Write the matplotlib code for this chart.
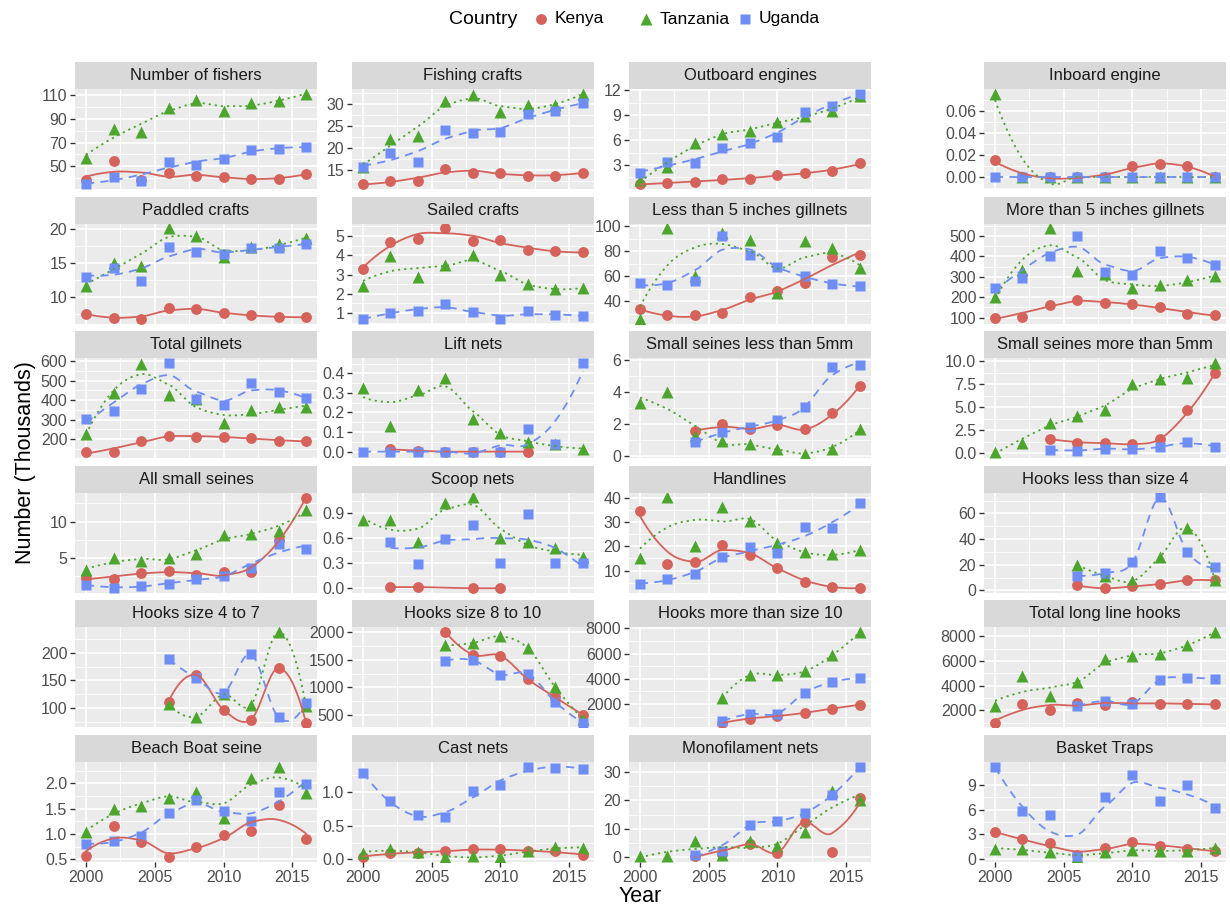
import numpy as np
import matplotlib
matplotlib.use("Agg")
import matplotlib.pyplot as plt

plt.rcParams["font.family"] = ["Liberation Sans", "DejaVu Sans"]

years = np.arange(2000, 2017, 2)
N = np.nan

panels = [
    "Number of fishers", "Fishing crafts", "Outboard engines", "Inboard engine",
    "Paddled crafts", "Sailed crafts", "Less than 5 inches gillnets", "More than 5 inches gillnets",
    "Total gillnets", "Lift nets", "Small seines less than 5mm", "Small seines more than 5mm",
    "All small seines", "Scoop nets", "Handlines", "Hooks less than size 4",
    "Hooks size 4 to 7", "Hooks size 8 to 10", "Hooks more than size 10", "Total long line hooks",
    "Beach Boat seine", "Cast nets", "Monofilament nets", "Basket Traps",
]

# one row per panel, one value per survey year (thousands)
kenya = [
    [38.4, 54.2, 38.5, 44.3, 42.0, 41.3, 39.3, 39.3, 43.7],
    [11.6, 12.3, 12.4, 15.2, 14.3, 14.2, 13.6, 13.6, 14.3],
    [0.66, 0.84, 0.97, 1.3, 1.3, 1.8, 2.05, 2.26, 3.2],
    [0.015, 0, 0, 0, 0, 0.010, 0.0115, 0.010, 0],
    [7.54, 6.9, 6.75, 8.4, 8.2, 7.6, 7.3, 7.1, 7.0],
    [3.3, 4.7, 4.85, 5.4, 4.76, 4.8, 4.27, 4.2, 4.15],
    [33.4, 28.6, 28.6, 30.9, 43.7, 48.0, 54.3, 75.4, 77.1],
    [100, 103, 161, 186, 170, 165, 151, 118, 112],
    [133, 135, 191, 217, 213, 211, 207, 189, 191],
    [N, 0.012, 0.005, 0, 0, 0, 0, N, N],
    [N, N, 1.55, 2.0, 1.7, 1.96, 1.67, 2.7, 4.4],
    [N, N, 1.55, 1.17, 1.1, 1.0, 1.55, 4.67, 8.68],
    [2.2, 2.1, 3.0, 3.2, 2.7, 3.1, 3.1, 7.5, 13.3],
    [N, 0.013, 0.013, N, 0.0, 0.0, N, N, N],
    [34.6, 12.5, 13.5, 20.7, 16.3, 11.2, 5.4, 3.2, 2.8],
    [N, N, N, 3.9, 1.7, 3.1, 5.0, 7.8, 7.8],
    [N, N, N, 112, 160, 97.5, 80, 172, 74],
    [N, N, N, 2000, 1592, 1572, 1147, 820, 507],
    [N, N, N, 500, 845, 1040, 1300, 1635, 1940],
    [1000, 2540, 2060, 2630, 2430, 2710, 2490, 2540, 2490],
    [0.57, 1.15, 0.85, 0.535, 0.745, 0.97, 1.06, 1.58, 0.9],
    [0.04, 0.1, 0.1, 0.12, 0.15, 0.15, 0.12, 0.12, 0.07],
    [N, N, 0.2, 1.0, 4.5, 1.5, 12.4, 1.8, 21.0],
    [3.25, 2.4, 1.9, 0.5, 1.3, 2.05, 1.55, 1.2, 1.0],
]

tanzania = [
    [57.2, 81.6, 79.0, 99.0, 105.8, 96.3, 103.4, 105.2, 111.0],
    [15.7, 21.9, 22.8, 30.8, 32.0, 28.1, 29.8, 29.7, 32.4],
    [1.2, 2.7, 5.7, 6.7, 7.1, 8.2, 8.9, 9.5, 11.3],
    [0.0757, 0, 0, 0, 0, 0, 0, 0, 0],
    [11.6, 15.0, 14.6, 20.1, 19.0, 15.9, 17.4, 17.8, 18.6],
    [2.4, 3.96, 2.85, 3.47, 4.02, 3.0, 2.5, 2.27, 2.3],
    [25.7, 98.6, 60.0, 94.9, 89.4, 46.3, 88.6, 82.3, 66.3],
    [202, 335, 538, 328, 312, 247, 260, 282, 303],
    [226, 435, 587, 426, 405, 283, 350, 365, 365],
    [0.324, 0.13, 0.315, 0.376, 0.167, 0.093, 0.05, 0.037, 0.013],
    [3.3, 4.0, 1.28, 0.95, 0.77, 0.45, 0.16, 0.45, 1.7],
    [0.1, 1.17, 3.3, 4.1, 4.67, 7.5, 8.1, 8.2, 9.85],
    [3.3, 5.0, 4.6, 5.0, 5.6, 8.1, 8.3, 8.7, 11.6],
    [0.814, 0.814, 0.55, 1.02, 1.09, 0.6, 0.55, 0.485, 0.38],
    [15.0, 40.3, 20.1, 36.3, 30.4, 21.6, 17.5, 16.9, 18.4],
    [N, N, N, 19.7, 11.4, 7.2, 26.1, 48.9, 8.1],
    [N, N, N, 108, 85, 125, 106, 237, 104],
    [N, N, N, 1758, 1804, 1922, 1706, 1000, 430],
    [N, N, N, 2500, 4300, 4300, 4600, 5890, 7720],
    [2340, 4770, 3200, 4260, 6140, 6400, 6540, 7260, 8340],
    [1.03, 1.49, 1.55, 1.71, 1.82, 1.31, 2.1, 2.33, 1.8],
    [0.1, 0.16, 0.11, 0.03, 0.05, 0.04, 0.12, 0.19, 0.17],
    [0.2, 0.2, 5.7, 0.5, 5.7, 3.7, 8.9, 23.2, 20.0],
    [1.27, 1.27, 0.9, 0.2, 0.85, 1.1, 0.97, 0.97, 1.4],
]

uganda = [
    [34.8, 41.3, 37.8, 53.9, 51.5, 56.6, 63.7, 64.3, 66.4],
    [15.5, 18.7, 16.8, 24.1, 23.4, 23.7, 27.8, 28.3, 30.3],
    [2.05, 3.35, 3.2, 5.0, 5.6, 6.4, 9.4, 10.1, 11.6],
    [0, 0, 0, 0, 0, 0, 0, 0, 0],
    [12.9, 14.3, 12.4, 17.4, 16.6, 16.3, 17.2, 17.2, 17.8],
    [0.7, 1.0, 1.1, 1.45, 1.05, 0.72, 1.1, 0.9, 0.85],
    [54.3, 52.9, 56.3, 92.0, 77.1, 67.1, 60.0, 53.7, 52.0],
    [247, 294, 402, 501, 324, 308, 425, 390, 358],
    [302, 346, 457, 591, 406, 376, 485, 441, 411],
    [0, 0, 0, 0, 0, 0, 0.115, 0.037, 0.454],
    [N, N, 0.88, 1.5, 1.85, 2.25, 3.1, 5.6, 5.7],
    [N, N, 0.39, 0.2, 0.5, 0.43, 0.7, 1.28, 0.7],
    [1.35, 0.85, 1.15, 1.5, 2.1, 2.5, 3.7, 6.9, 6.3],
    [N, 0.56, 0.29, 0.59, 0.755, 0.3, 0.89, 0.3, 0.3],
    [4.6, 6.3, 8.5, 15.6, 19.9, 17.2, 27.9, 27.5, 38.1],
    [N, N, N, 11.4, 13.6, 21.9, 72.5, 30.0, 18.3],
    [N, N, N, 188, 154, 128, 197, 84, 110],
    [N, N, N, 1474, 1487, 1232, 1245, 735, 363],
    [N, N, N, 650, 1200, 1240, 2900, 3750, 4030],
    [N, N, N, 2340, 2770, 2540, 4490, 4630, 4540],
    [0.81, 0.86, 0.95, 1.42, 1.67, 1.46, 1.25, 1.83, 1.98],
    [1.28, 0.86, 0.66, 0.63, 1.01, 1.1, 1.37, 1.36, 1.34],
    [N, N, 0.5, 2.2, 11.4, 12.6, 15.6, 22.0, 32.0],
    [11.2, 5.8, 5.35, 0.4, 7.55, 10.2, 7.0, 8.95, 6.15],
]

y_breaks = [
    ["50", "70", "90", "110"], ["15", "20", "25", "30"], ["3", "6", "9", "12"],
    ["0.00", "0.02", "0.04", "0.06"],
    ["10", "15", "20"], ["1", "2", "3", "4", "5"], ["40", "60", "80", "100"],
    ["100", "200", "300", "400", "500"],
    ["200", "300", "400", "500", "600"], ["0.0", "0.1", "0.2", "0.3", "0.4"],
    ["0", "2", "4", "6"], ["0.0", "2.5", "5.0", "7.5", "10.0"],
    ["5", "10"], ["0.0", "0.3", "0.6", "0.9"], ["10", "20", "30", "40"], ["0", "20", "40", "60"],
    ["100", "150", "200"], ["500", "1000", "1500", "2000"],
    ["2000", "4000", "6000", "8000"], ["2000", "4000", "6000", "8000"],
    ["0.5", "1.0", "1.5", "2.0"], ["0.0", "0.5", "1.0"], ["0", "10", "20", "30"],
    ["0", "3", "6", "9"],
]
x_breaks = [2000, 2005, 2010, 2015]

countries = ["Kenya", "Tanzania", "Uganda"]
colors = ["#D5635B", "#4CA62E", "#6E8EF5"]
markers = ["o", "^", "s"]
msizes = [7.8, 8.3, 7.3]
dashes = [None, (1.2, 2.2), (4.5, 3.5)]


def local_fit(x, y, x0, q):
    # weighted quadratic around x0 (tricube weights), returns level and slope
    d = np.abs(x - x0)
    h = np.sort(d)[q - 1] * 1.001 + 1e-9
    w = np.clip(1 - (d / h) ** 3, 0, None) ** 3
    deg = 2 if np.sum(w > 0) >= 3 else 1
    X = np.vander(x - x0, deg + 1, increasing=True)
    sw = np.sqrt(w)
    beta = np.linalg.lstsq(X * sw[:, None], y * sw, rcond=None)[0]
    return beta[0], beta[1]


def loess(x, y, span=0.75, per_seg=20):
    # fit at the data positions, cubic Hermite pieces in between
    q = max(int(np.floor(len(x) * span)), 2)
    fits = [local_fit(x, y, x0, q) for x0 in x]
    gx, gy = [], []
    for j in range(len(x) - 1):
        x0, x1 = x[j], x[j + 1]
        (v0, s0), (v1, s1) = fits[j], fits[j + 1]
        hw = x1 - x0
        t = np.linspace(0, 1, per_seg, endpoint=(j == len(x) - 2))
        h00 = 2 * t**3 - 3 * t**2 + 1
        h10 = t**3 - 2 * t**2 + t
        h01 = -2 * t**3 + 3 * t**2
        h11 = t**3 - t**2
        gx.append(x0 + t * hw)
        gy.append(h00 * v0 + h10 * hw * s0 + h01 * v1 + h11 * hw * s1)
    return np.concatenate(gx), np.concatenate(gy)


W, H = 1230, 907
fig = plt.figure(figsize=(W / 100, H / 100), dpi=100)

col_left = [75, 352, 629, 984]
panel_w = 242
row_top = [62 + r * 134.6 for r in range(6)]
strip_h = 27
panel_h = 100
xlim = (2000 - 0.8, 2016 + 0.8)


def px_axes(left, top, w, h):
    return fig.add_axes([left / W, 1 - (top + h) / H, w / W, h / H])


for i, name in enumerate(panels):
    r, c = divmod(i, 4)
    left, top = col_left[c], row_top[r]

    sax = px_axes(left, top, panel_w, strip_h)
    sax.set_facecolor("#D9D9D9")
    sax.set_xticks([])
    sax.set_yticks([])
    for s in sax.spines.values():
        s.set_visible(False)
    sax.text(0.5, 0.5, name, ha="center", va="center", fontsize=12, color="#1A1A1A",
             transform=sax.transAxes)

    ax = px_axes(left, top + strip_h, panel_w, panel_h)
    ax.set_facecolor("#EBEBEB")
    for s in ax.spines.values():
        s.set_visible(False)

    lo, hi = np.inf, -np.inf
    curves = []
    for k, series in enumerate([kenya, tanzania, uganda]):
        y = np.array(series[i], dtype=float)
        ok = ~np.isnan(y)
        xs, ys = years[ok].astype(float), y[ok]
        gx, gy = loess(xs, ys)
        curves.append((k, xs, ys, gx, gy))
        lo = min(lo, ys.min(), gy.min())
        hi = max(hi, ys.max(), gy.max())

    for k, xs, ys, gx, gy in curves:
        ax.plot(xs, ys, linestyle="none", marker=markers[k], ms=msizes[k],
                color=colors[k], mec="none", zorder=3 + k * 0.1)
    for k, xs, ys, gx, gy in curves:
        ln, = ax.plot(gx, gy, color=colors[k], lw=1.3, zorder=4 + k * 0.1)
        if dashes[k] is not None:
            ln.set_dashes(dashes[k])

    pad = (hi - lo) * 0.05
    ylim = (lo - pad, hi + pad)
    ax.set_xlim(*xlim)
    ax.set_ylim(*ylim)

    labels = y_breaks[i]
    yt = np.array([float(t) for t in labels])
    step = yt[1] - yt[0]
    minor = np.arange(yt[0] - step / 2, yt[-1] + step, step)
    minor = minor[(minor > ylim[0]) & (minor < ylim[1])]
    for m in minor:
        ax.axhline(m, color="white", lw=0.6, zorder=1)
    for t in yt:
        ax.axhline(t, color="white", lw=1.2, zorder=1.5)
    for m in [2002.5, 2007.5, 2012.5]:
        ax.axvline(m, color="white", lw=0.6, zorder=1)
    for t in x_breaks:
        ax.axvline(t, color="white", lw=1.2, zorder=1.5)

    ax.set_yticks(yt)
    ax.set_yticklabels(labels)
    ax.tick_params(axis="y", length=3.5, width=1.0, color="#333333", labelsize=11.5,
                   labelcolor="#4D4D4D", pad=2)
    if r == 5:
        ax.set_xticks(x_breaks)
        ax.set_xticklabels([str(v) for v in x_breaks])
        ax.tick_params(axis="x", length=3.5, width=1.0, color="#333333", labelsize=11.5,
                       labelcolor="#4D4D4D", pad=2)
    else:
        ax.set_xticks([])

fig.text(640 / W, 1 - 897 / H, "Year", ha="center", va="center", fontsize=15.5)
fig.text(26 / W, 1 - 463 / H, "Number (Thousands)", ha="center", va="center",
         rotation=90, fontsize=15.5)

# legend strip along the top
lax = fig.add_axes([0, 1 - 38 / H, 1, 38 / H])
lax.set_xlim(0, W)
lax.set_ylim(38, 0)
lax.axis("off")
lax.text(449, 19, "Country", ha="left", va="center", fontsize=14)
key_x = [541, 646, 745]
for k, name in enumerate(countries):
    lax.plot([key_x[k]], [19], marker=markers[k], ms=msizes[k], color=colors[k],
             mec="none", linestyle="none")
    lax.text(key_x[k] + 14, 19, name, ha="left", va="center", fontsize=12.5)

fig.savefig("out.png", dpi=100)
